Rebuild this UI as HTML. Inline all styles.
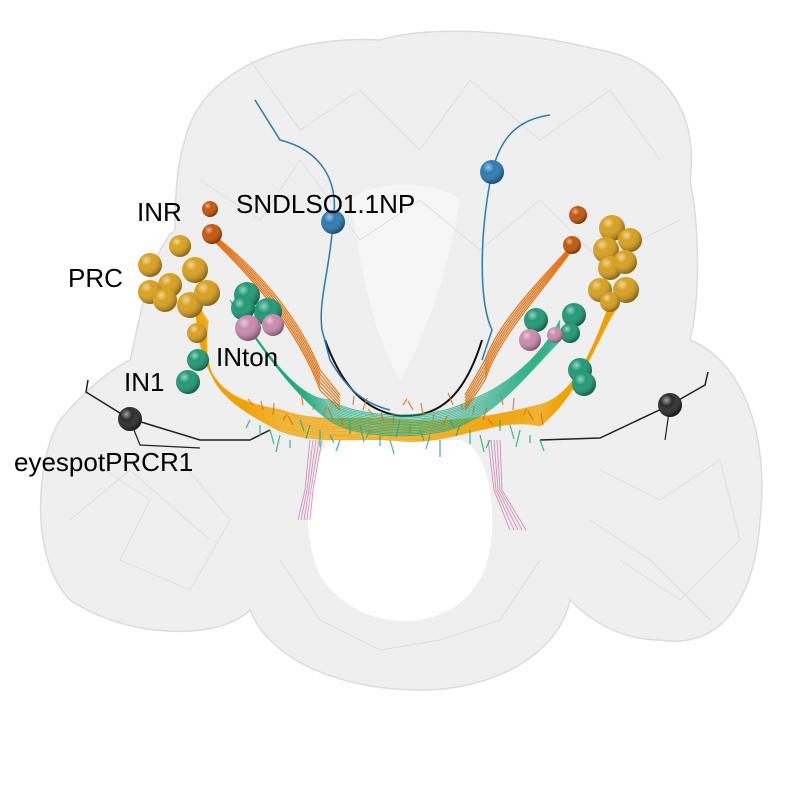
<!DOCTYPE html>
<html><head><meta charset="utf-8"><style>
html,body{margin:0;padding:0;background:#fff;}
svg{display:block;}
text{font-family:"Liberation Sans",sans-serif;font-size:26px;fill:#000;}
</style></head><body>
<svg id="scene" width="800" height="800" viewBox="0 0 800 800">
<defs>
<radialGradient id="shine" cx="35%" cy="30%" r="70%">
<stop offset="0" stop-color="#fff" stop-opacity="0.55"/>
<stop offset="0.35" stop-color="#fff" stop-opacity="0"/>
<stop offset="1" stop-color="#000" stop-opacity="0.35"/>
</radialGradient>
</defs>
<g>
<path d="M185,140 C200,70 290,35 380,40 C430,25 520,30 600,50 C660,60 700,110 690,180 C700,230 700,300 690,340 C740,360 770,430 760,520 C755,600 720,650 660,640 C620,640 590,620 570,600 C560,650 500,690 420,690 C340,690 270,660 250,610 C220,640 130,640 70,600 C30,560 35,460 60,420 C85,390 110,370 130,360 C140,320 150,250 175,230 C175,190 178,160 185,140 Z" fill="#efefef" stroke="#dcdcdc" stroke-width="1.5"/>
<path d="M330,440 C305,470 300,530 320,575 C345,615 390,625 420,620 C465,612 490,580 492,530 C494,480 480,445 460,440 Z" fill="#fff"/>
<path d="M350,200 C360,260 370,330 400,380 C430,330 450,260 460,200 C440,180 370,180 350,200 Z" fill="#f6f6f6"/>
<g stroke="#dadada" stroke-width="1" fill="none" opacity="0.8">
<path d="M250,60 L300,130 L360,90 L420,150 L470,80 L540,140 L610,90 L660,160"/>
<path d="M200,180 L260,220 L300,160 L360,240 L420,200 L480,250 L540,200 L600,260 L680,220"/>
<path d="M90,460 L150,500 L120,560 L190,590 L230,520 L180,460"/>
<path d="M600,470 L660,500 L720,460 L740,540 L680,600 L620,560"/>
<path d="M280,560 L320,620 L380,650 L440,640 L500,620 L540,560"/>
<path d="M70,520 L130,470 L210,540"/>
<path d="M590,520 L650,560 L710,620"/>
</g>
</g>
<g id="neurites"></g>
<g id="somas"></g>
<g>
<text x="137" y="221">INR</text>
<text x="236" y="213">SNDLSO1.1NP</text>
<text x="68" y="287">PRC</text>
<text x="216" y="366">INton</text>
<text x="124" y="391">IN1</text>
<text x="14" y="471">eyespotPRCR1</text>
</g>
</svg>
<script>
// soma positions (scene coords), radii, cell types
const somaX = [210,212, 180,150,195,170,150,165,190,207,197, 247,268,243,198,188, 248,273, 333,492, 130,670,
               578,572, 612,630,606,610,625,600,626,610, 536,574,570,580,584, 530,555];
const somaY = [209,234, 246,265,270,285,292,300,305,293,333, 295,312,308,360,382, 328,325, 222,172, 419,405,
               215,245, 228,240,250,268,262,290,290,302, 320,315,333,370,384, 340,335];
const somaR = [8,10, 11,12,13,12,12,12,13,13,10, 13,14,12,11,12, 13,11, 12,12, 12,12,
               9,9, 13,12,13,12,12,12,13,10, 12,12,10,12,12, 11,8];
const somaType = ["INR","INR","PRC","PRC","PRC","PRC","PRC","PRC","PRC","PRC","PRC","IN1","IN1","IN1","IN1","IN1","INton","INton","SND","SND","EYE","EYE",
                  "INR","INR","PRC","PRC","PRC","PRC","PRC","PRC","PRC","PRC","IN1","IN1","IN1","IN1","IN1","INton","INton"];
const typeColor = {INR:"#c4560b",PRC:"#d9a01f",IN1:"#1f9874",INton:"#c98aad",SND:"#2a7ab3",EYE:"#2a2a2a"};
const NS="http://www.w3.org/2000/svg";
const neur=document.getElementById('neurites');
function path(d,c,w,o){const p=document.createElementNS(NS,'path');p.setAttribute('d',d);p.setAttribute('stroke',c);p.setAttribute('stroke-width',w);p.setAttribute('fill','none');p.setAttribute('opacity',o);


neur.appendChild(p);}
// pink descending
for(let i=0;i<5;i++){path(`M${310+i*3},440 L${305+i*2},490 L${298+i*3},520`,"#d17fae",1,0.8);path(`M${488+i*3},440 L${494+i*2},490 L${510+i*4},530`,"#d17fae",1,0.8);}
// black eyespot
path("M88,380 L86,392 L128,418 L200,440 L250,440 L270,430","#222",1.5,1);
path("M130,420 L140,445 L200,448","#222",1.2,1);
path("M540,440 L600,438 L670,405 L705,385 L708,372","#222",1.5,1);
path("M670,405 L665,440","#222",1.2,1);
path("M325,340 C340,380 360,410 400,416 C440,418 465,395 482,340","#111",2,1);
// blue
path("M333,222 C330,270 318,300 322,330 L330,360 C350,395 370,405 390,410","#2a7ab3",1.5,1);
path("M333,222 C340,180 320,150 280,140 L255,100","#2a7ab3",1.5,1);
path("M492,172 C480,230 478,300 492,330 L482,360","#2a7ab3",1.5,1);
path("M492,172 C500,140 515,120 550,115","#2a7ab3",1.5,1);
// teal + orange bundles
for(let i=0;i<14;i++){const o=i*1.6;
path(`M${230+i},${300+o} C270,360 300,400 330,${400+o} C360,${420+o} 440,${420+o} 470,${400+o} C500,${390+o} 540,${360} 560,${320+o}`,"#1faa80",1.2,0.7);
path(`M${195+i},${300+o} C200,380 220,400 280,${410+o} C320,${425+o} 360,${415+o} 400,${420+o} C450,${425+o} 500,${415} 540,${405+o} C580,${395} 600,${330} 615,${290+o}`,"#f0a000",1.5,0.8);}
for(let i=0;i<6;i++){path(`M212,${234+i} C260,${270+i*3} 300,${320+i*3} 320,${370+i*4} L340,${395+i*3}`,"#e06a05",1.2,0.9);
path(`M572,${245+i} C540,${280+i*3} 500,${320+i*3} 485,${360+i*4} L465,${395+i*3}`,"#e06a05",1.2,0.9);}
for(let i=0;i<30;i++){const x=250+i*10,y=420+(i%5)*5;path(`M${x},${y} l${(i%3)*4-4},${8+(i%4)*3}`,"#1faa80",1.3,0.8);
path(`M${x+3},${y-15} l${(i%4)*3-5},${-6-(i%3)*3}`,"#e06a05",1.2,0.8);}
// somas
const sg=document.getElementById('somas');
for(let i=0;i<somaX.length;i++){
 const c=document.createElementNS(NS,'circle');c.setAttribute('cx',somaX[i]);c.setAttribute('cy',somaY[i]);c.setAttribute('r',somaR[i]);c.setAttribute('fill',typeColor[somaType[i]]);
 
 
 sg.appendChild(c);
 const h=document.createElementNS(NS,'circle');h.setAttribute('cx',somaX[i]);h.setAttribute('cy',somaY[i]);h.setAttribute('r',somaR[i]);h.setAttribute('fill','url(#shine)');
 
 
 sg.appendChild(h);
}
</script>
</body></html>
